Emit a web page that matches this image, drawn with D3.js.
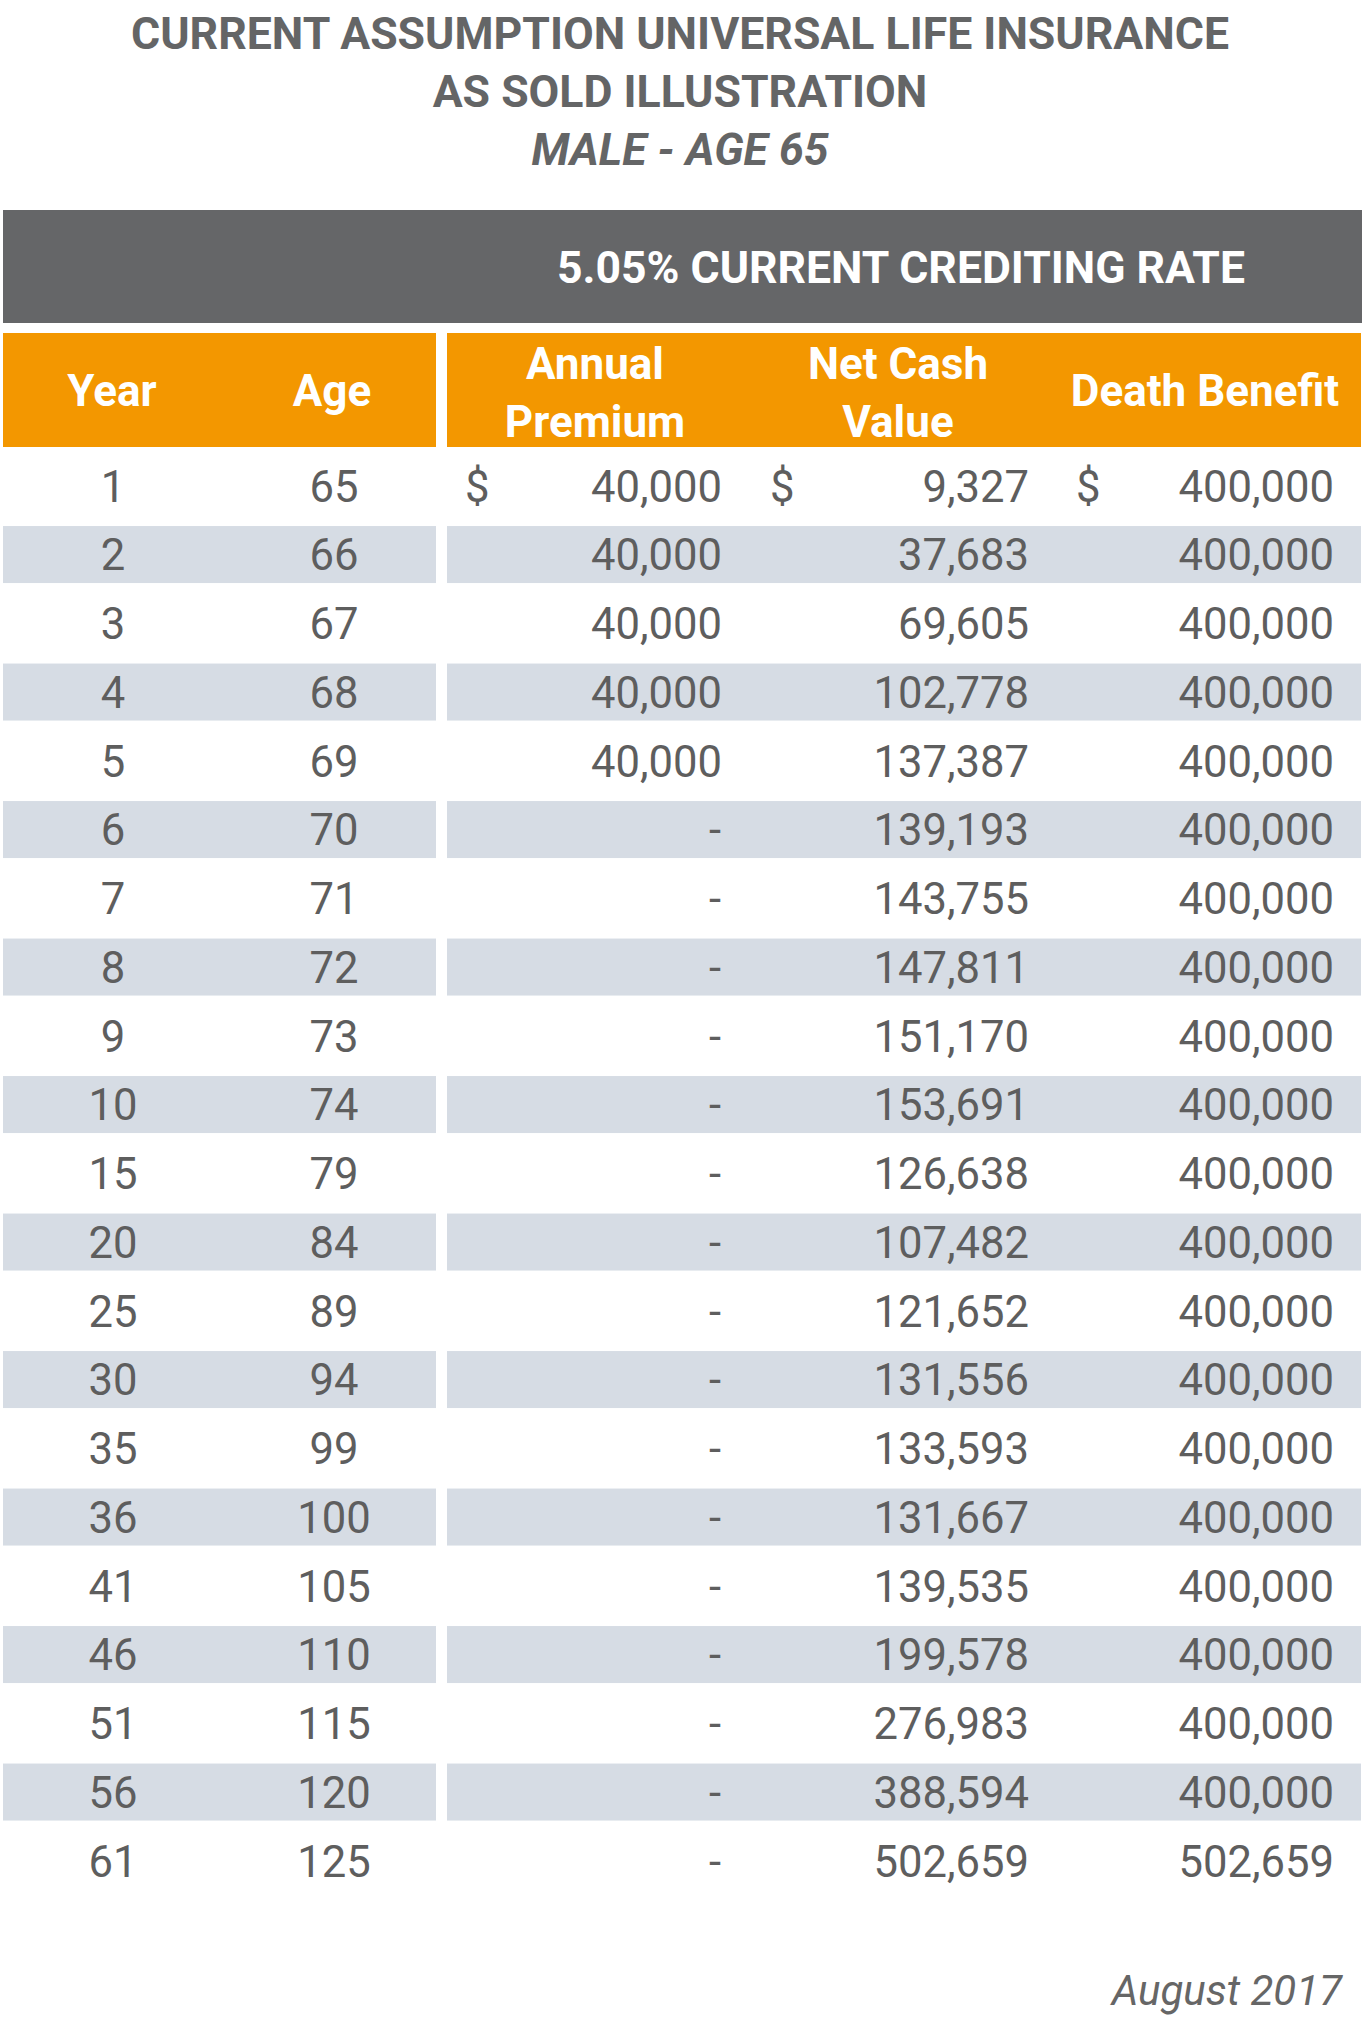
<!DOCTYPE html>
<html>
<head>
<meta charset="utf-8">
<script src="https://cdn.jsdelivr.net/npm/d3@7"></script>
<style>
  html, body { margin: 0; padding: 0; background: #ffffff; }
  svg { display: block; font-family: Roboto, "Noto Sans", sans-serif; }
</style>
</head>
<body>
<svg id="chart" width="1362" height="2018"></svg>
<script>
// ---- data ----
const titleLines = ["CURRENT ASSUMPTION UNIVERSAL LIFE INSURANCE", "AS SOLD ILLUSTRATION", "MALE - AGE 65"];
const bandTitle = "5.05% CURRENT CREDITING RATE";
const headers = [["Year"], ["Age"], ["Annual", "Premium"], ["Net Cash", "Value"], ["Death Benefit"]];
const years = [1, 2, 3, 4, 5, 6, 7, 8, 9, 10, 15, 20, 25, 30, 35, 36, 41, 46, 51, 56, 61];
const ages = [65, 66, 67, 68, 69, 70, 71, 72, 73, 74, 79, 84, 89, 94, 99, 100, 105, 110, 115, 120, 125];
const annualPremium = [40000, 40000, 40000, 40000, 40000, 0, 0, 0, 0, 0, 0, 0, 0, 0, 0, 0, 0, 0, 0, 0, 0];
const netCashValue = [9327, 37683, 69605, 102778, 137387, 139193, 143755, 147811, 151170, 153691, 126638, 107482, 121652, 131556, 133593, 131667, 139535, 199578, 276983, 388594, 502659];
const deathBenefit = [400000, 400000, 400000, 400000, 400000, 400000, 400000, 400000, 400000, 400000, 400000, 400000, 400000, 400000, 400000, 400000, 400000, 400000, 400000, 400000, 502659];
const footer = "August 2017";

// ---- styles / layout ----
const grayDark = "#656668";
const orange = "#F39700";
const stripe = "#D6DCE4";
const textGray = "#5e5e5e";
const titleGray = "#646566";

const svg = d3.select("#chart");

// Row scale
const y = d3.scaleLinear().domain([0, years.length - 1]).range([485.8, 1860.8]);
const bandH = 57;

// Title
const titleBase = [49, 107, 165];
svg.append("g").selectAll("text").data(titleLines).join("text")
  .attr("x", 680)
  .attr("y", (d, i) => titleBase[i])
  .attr("text-anchor", "middle")
  .attr("font-size", 44.6)
  .attr("font-weight", 700)
  .attr("font-style", (d, i) => i === 2 ? "italic" : "normal")
  .attr("fill", titleGray)
  .text(d => d);

// Dark band
svg.append("rect").attr("x", 3).attr("y", 210).attr("width", 1359).attr("height", 113).attr("fill", grayDark);
svg.append("text").attr("x", 901).attr("y", 283).attr("text-anchor", "middle")
  .attr("font-size", 44.5).attr("font-weight", 700).attr("fill", "#ffffff").text(bandTitle);

// Header blocks
const leftBlock = { x0: 3, x1: 436 };
const rightBlock = { x0: 447, x1: 1361 };
[leftBlock, rightBlock].forEach(b => {
  svg.append("rect").attr("x", b.x0).attr("y", 333).attr("width", b.x1 - b.x0).attr("height", 114).attr("fill", orange);
});
const headerCenters = [112, 332, 595, 898, 1205];
const hdr = svg.append("g");
headers.forEach((lines, i) => {
  const bases = lines.length === 1 ? [406] : [379, 437];
  lines.forEach((ln, j) => {
    hdr.append("text").attr("x", headerCenters[i]).attr("y", bases[j])
      .attr("text-anchor", "middle").attr("font-size", 44).attr("font-weight", 700)
      .attr("fill", "#ffffff").text(ln);
  });
});

// Stripes
const idx = d3.range(years.length);
const stripeRows = idx.filter(i => i % 2 === 1);
const stripes = svg.append("g");
stripeRows.forEach(i => {
  [leftBlock, rightBlock].forEach(b => {
    stripes.append("rect").attr("x", b.x0).attr("y", y(i) - bandH / 2)
      .attr("width", b.x1 - b.x0).attr("height", bandH).attr("fill", stripe);
  });
});

// Body text
const fmt = d3.format(",");
const money = v => v === 0 ? "-" : fmt(v);
const body = svg.append("g").attr("font-size", 43.6).attr("fill", textGray);
const baseOff = 15.8;

body.selectAll(".yr").data(years).join("text")
  .attr("x", 113).attr("y", (d, i) => y(i) + baseOff).attr("text-anchor", "middle").text(d => d);
body.selectAll(".ag").data(ages).join("text")
  .attr("x", 334).attr("y", (d, i) => y(i) + baseOff).attr("text-anchor", "middle").text(d => d);

const moneyCols = [
  { data: annualPremium, dollarX: 465, endX: 722 },
  { data: netCashValue, dollarX: 770, endX: 1029 },
  { data: deathBenefit, dollarX: 1076, endX: 1334 }
];
moneyCols.forEach(c => {
  body.append("g").selectAll("text").data(c.data).join("text")
    .attr("x", d => d === 0 ? c.endX - 1 : c.endX)
    .attr("y", (d, i) => y(i) + baseOff)
    .attr("text-anchor", "end")
    .text(d => money(d));
  body.append("text").attr("x", c.dollarX).attr("y", y(0) + baseOff).text("$");
});

// Footer
svg.append("text").attr("x", 1342).attr("y", 2005).attr("text-anchor", "end")
  .attr("font-size", 42).attr("font-style", "italic").attr("fill", "#666666").text(footer);
</script>
</body>
</html>
